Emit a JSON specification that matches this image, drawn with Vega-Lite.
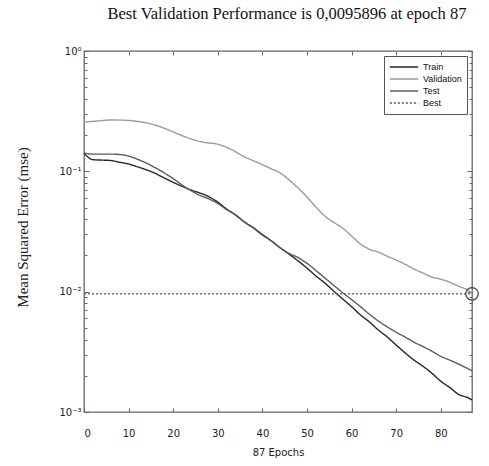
{
  "$schema": "https://vega.github.io/schema/vega-lite/v6.json",
  "width": 388,
  "height": 361,
  "autosize": {"type": "none"},
  "padding": {"left": 84, "top": 51, "right": 17, "bottom": 54},
  "background": "white",
  "title": {
    "text": "Best Validation Performance is 0,0095896 at epoch 87",
    "font": "Liberation Serif",
    "fontSize": 16.5,
    "fontWeight": "normal",
    "color": "#111",
    "anchor": "middle",
    "dx": 9,
    "offset": 11,
    "baseline": "alphabetic"
  },
  "config": {
    "view": {"stroke": "#666", "strokeWidth": 1.3},
    "axis": {
      "domain": false,
      "grid": false,
      "tickColor": "#666",
      "labelFont": "DejaVu Sans",
      "labelFontSize": 10,
      "labelColor": "#222",
      "titleFont": "DejaVu Sans",
      "titleFontWeight": "normal",
      "titleColor": "#222"
    }
  },
  "data": {
    "values": [
      {"series": "Train", "epoch": 0, "mse": 0.142},
      {"series": "Train", "epoch": 1, "mse": 0.130},
      {"series": "Train", "epoch": 2, "mse": 0.125},
      {"series": "Train", "epoch": 4, "mse": 0.124},
      {"series": "Train", "epoch": 6, "mse": 0.123},
      {"series": "Train", "epoch": 8, "mse": 0.119},
      {"series": "Train", "epoch": 10, "mse": 0.115},
      {"series": "Train", "epoch": 12, "mse": 0.109},
      {"series": "Train", "epoch": 14, "mse": 0.103},
      {"series": "Train", "epoch": 16, "mse": 0.096},
      {"series": "Train", "epoch": 18, "mse": 0.088},
      {"series": "Train", "epoch": 20, "mse": 0.081},
      {"series": "Train", "epoch": 22, "mse": 0.075},
      {"series": "Train", "epoch": 24, "mse": 0.070},
      {"series": "Train", "epoch": 26, "mse": 0.066},
      {"series": "Train", "epoch": 28, "mse": 0.0615},
      {"series": "Train", "epoch": 30, "mse": 0.0555},
      {"series": "Train", "epoch": 32, "mse": 0.0486},
      {"series": "Train", "epoch": 34, "mse": 0.0433},
      {"series": "Train", "epoch": 36, "mse": 0.0378},
      {"series": "Train", "epoch": 38, "mse": 0.0338},
      {"series": "Train", "epoch": 40, "mse": 0.0296},
      {"series": "Train", "epoch": 42, "mse": 0.0264},
      {"series": "Train", "epoch": 44, "mse": 0.0231},
      {"series": "Train", "epoch": 46, "mse": 0.0205},
      {"series": "Train", "epoch": 48, "mse": 0.018},
      {"series": "Train", "epoch": 50, "mse": 0.0157},
      {"series": "Train", "epoch": 52, "mse": 0.0135},
      {"series": "Train", "epoch": 54, "mse": 0.0118},
      {"series": "Train", "epoch": 56, "mse": 0.0101},
      {"series": "Train", "epoch": 58, "mse": 0.0087},
      {"series": "Train", "epoch": 60, "mse": 0.0075},
      {"series": "Train", "epoch": 62, "mse": 0.0064},
      {"series": "Train", "epoch": 64, "mse": 0.0056},
      {"series": "Train", "epoch": 66, "mse": 0.0048},
      {"series": "Train", "epoch": 68, "mse": 0.0042},
      {"series": "Train", "epoch": 70, "mse": 0.0036},
      {"series": "Train", "epoch": 72, "mse": 0.0031},
      {"series": "Train", "epoch": 74, "mse": 0.0027},
      {"series": "Train", "epoch": 76, "mse": 0.0024},
      {"series": "Train", "epoch": 78, "mse": 0.0021},
      {"series": "Train", "epoch": 80, "mse": 0.0018},
      {"series": "Train", "epoch": 82, "mse": 0.0016},
      {"series": "Train", "epoch": 84, "mse": 0.0014},
      {"series": "Train", "epoch": 86, "mse": 0.00132},
      {"series": "Train", "epoch": 87, "mse": 0.00126},
      {"series": "Validation", "epoch": 0, "mse": 0.257},
      {"series": "Validation", "epoch": 3, "mse": 0.262},
      {"series": "Validation", "epoch": 6, "mse": 0.267},
      {"series": "Validation", "epoch": 9, "mse": 0.266},
      {"series": "Validation", "epoch": 12, "mse": 0.260},
      {"series": "Validation", "epoch": 15, "mse": 0.248},
      {"series": "Validation", "epoch": 18, "mse": 0.228},
      {"series": "Validation", "epoch": 21, "mse": 0.205},
      {"series": "Validation", "epoch": 24, "mse": 0.186},
      {"series": "Validation", "epoch": 27, "mse": 0.174},
      {"series": "Validation", "epoch": 30, "mse": 0.168},
      {"series": "Validation", "epoch": 33, "mse": 0.152},
      {"series": "Validation", "epoch": 36, "mse": 0.132},
      {"series": "Validation", "epoch": 39, "mse": 0.118},
      {"series": "Validation", "epoch": 42, "mse": 0.105},
      {"series": "Validation", "epoch": 44, "mse": 0.097},
      {"series": "Validation", "epoch": 46, "mse": 0.0847},
      {"series": "Validation", "epoch": 48, "mse": 0.0727},
      {"series": "Validation", "epoch": 50, "mse": 0.0612},
      {"series": "Validation", "epoch": 52, "mse": 0.0505},
      {"series": "Validation", "epoch": 54, "mse": 0.0425},
      {"series": "Validation", "epoch": 56, "mse": 0.0377},
      {"series": "Validation", "epoch": 58, "mse": 0.0337},
      {"series": "Validation", "epoch": 60, "mse": 0.029},
      {"series": "Validation", "epoch": 62, "mse": 0.0249},
      {"series": "Validation", "epoch": 64, "mse": 0.0225},
      {"series": "Validation", "epoch": 66, "mse": 0.0213},
      {"series": "Validation", "epoch": 68, "mse": 0.0197},
      {"series": "Validation", "epoch": 70, "mse": 0.0183},
      {"series": "Validation", "epoch": 72, "mse": 0.0169},
      {"series": "Validation", "epoch": 74, "mse": 0.0154},
      {"series": "Validation", "epoch": 76, "mse": 0.0143},
      {"series": "Validation", "epoch": 78, "mse": 0.0132},
      {"series": "Validation", "epoch": 80, "mse": 0.0127},
      {"series": "Validation", "epoch": 82, "mse": 0.012},
      {"series": "Validation", "epoch": 84, "mse": 0.0111},
      {"series": "Validation", "epoch": 86, "mse": 0.0103},
      {"series": "Validation", "epoch": 87, "mse": 0.0095896},
      {"series": "Test", "epoch": 0, "mse": 0.142},
      {"series": "Test", "epoch": 1, "mse": 0.140},
      {"series": "Test", "epoch": 2, "mse": 0.139},
      {"series": "Test", "epoch": 4, "mse": 0.139},
      {"series": "Test", "epoch": 6, "mse": 0.139},
      {"series": "Test", "epoch": 8, "mse": 0.138},
      {"series": "Test", "epoch": 10, "mse": 0.134},
      {"series": "Test", "epoch": 12, "mse": 0.126},
      {"series": "Test", "epoch": 14, "mse": 0.117},
      {"series": "Test", "epoch": 16, "mse": 0.107},
      {"series": "Test", "epoch": 18, "mse": 0.097},
      {"series": "Test", "epoch": 20, "mse": 0.087},
      {"series": "Test", "epoch": 22, "mse": 0.077},
      {"series": "Test", "epoch": 24, "mse": 0.069},
      {"series": "Test", "epoch": 26, "mse": 0.063},
      {"series": "Test", "epoch": 28, "mse": 0.059},
      {"series": "Test", "epoch": 30, "mse": 0.054},
      {"series": "Test", "epoch": 32, "mse": 0.048},
      {"series": "Test", "epoch": 34, "mse": 0.0435},
      {"series": "Test", "epoch": 36, "mse": 0.038},
      {"series": "Test", "epoch": 38, "mse": 0.034},
      {"series": "Test", "epoch": 40, "mse": 0.030},
      {"series": "Test", "epoch": 42, "mse": 0.0265},
      {"series": "Test", "epoch": 44, "mse": 0.0232},
      {"series": "Test", "epoch": 46, "mse": 0.0208},
      {"series": "Test", "epoch": 48, "mse": 0.0192},
      {"series": "Test", "epoch": 50, "mse": 0.0172},
      {"series": "Test", "epoch": 52, "mse": 0.015},
      {"series": "Test", "epoch": 54, "mse": 0.013},
      {"series": "Test", "epoch": 56, "mse": 0.0113},
      {"series": "Test", "epoch": 58, "mse": 0.0098},
      {"series": "Test", "epoch": 60, "mse": 0.0086},
      {"series": "Test", "epoch": 62, "mse": 0.0075},
      {"series": "Test", "epoch": 64, "mse": 0.0065},
      {"series": "Test", "epoch": 66, "mse": 0.0057},
      {"series": "Test", "epoch": 68, "mse": 0.0051},
      {"series": "Test", "epoch": 70, "mse": 0.0046},
      {"series": "Test", "epoch": 72, "mse": 0.0042},
      {"series": "Test", "epoch": 74, "mse": 0.0038},
      {"series": "Test", "epoch": 76, "mse": 0.0035},
      {"series": "Test", "epoch": 78, "mse": 0.0032},
      {"series": "Test", "epoch": 80, "mse": 0.0029},
      {"series": "Test", "epoch": 82, "mse": 0.0027},
      {"series": "Test", "epoch": 84, "mse": 0.0025},
      {"series": "Test", "epoch": 86, "mse": 0.0023},
      {"series": "Test", "epoch": 87, "mse": 0.0022},
      {"series": "Best", "epoch": 0, "mse": 0.0095896},
      {"series": "Best", "epoch": 87, "mse": 0.0095896}
    ]
  },
  "layer": [
    {
      "mark": {"type": "line", "interpolate": "monotone", "strokeWidth": 1.4},
      "encoding": {
        "x": {
          "field": "epoch",
          "type": "quantitative",
          "scale": {"domain": [0, 87], "nice": false, "zero": false},
          "axis": {
            "orient": "bottom",
            "values": [0, 10, 20, 30, 40, 50, 60, 70, 80],
            "tickSize": -4,
            "labelPadding": 20,
            "title": "87 Epochs",
            "titleFontSize": 10,
            "titlePadding": 9
          }
        },
        "y": {
          "field": "mse",
          "type": "quantitative",
          "scale": {"type": "log", "domain": [0.001, 1], "nice": false},
          "axis": {
            "orient": "left",
            "values": [0.001, 0.002, 0.003, 0.004, 0.005, 0.006, 0.007, 0.008, 0.009, 0.01, 0.02, 0.03, 0.04, 0.05, 0.06, 0.07, 0.08, 0.09, 0.1, 0.2, 0.3, 0.4, 0.5, 0.6, 0.7, 0.8, 0.9, 1],
            "labelExpr": "datum.value == 1 ? '10⁰' : datum.value == 0.1 ? '10⁻¹' : datum.value == 0.01 ? '10⁻²' : datum.value == 0.001 ? '10⁻³' : ''",
            "tickSize": {"condition": {"test": "datum.value == 1 || datum.value == 0.1 || datum.value == 0.01 || datum.value == 0.001", "value": -5}, "value": -3},
            "labelPadding": 8,
            "title": "Mean Squared Error (mse)",
            "titleFont": "Liberation Serif",
            "titleFontSize": 15,
            "titleAngle": -90,
            "titleBaseline": "middle",
            "titleAlign": "center",
            "titleX": -62,
            "titleY": 176
          }
        },
        "color": {
          "field": "series",
          "type": "nominal",
          "scale": {"domain": ["Train", "Validation", "Test", "Best"], "range": ["#262626", "#9b9b9b", "#5c5c5c", "#555555"]},
          "legend": {
            "title": null,
            "orient": "top-right",
            "offset": 5,
            "fillColor": "white",
            "strokeColor": "#555",
            "padding": 5,
            "labelFont": "Liberation Sans",
            "labelFontSize": 9,
            "labelColor": "#111",
            "symbolType": "stroke",
            "symbolSize": 800,
            "symbolStrokeWidth": 1.4,
            "clipHeight": 12,
            "rowPadding": 0
          }
        },
        "strokeDash": {
          "field": "series",
          "type": "nominal",
          "scale": {"domain": ["Train", "Validation", "Test", "Best"], "range": [[1, 0], [1, 0], [1, 0], [2, 2]]},
          "legend": {
            "title": null,
            "orient": "top-right",
            "offset": 5,
            "fillColor": "white",
            "strokeColor": "#555",
            "padding": 5,
            "labelFont": "Liberation Sans",
            "labelFontSize": 9,
            "labelColor": "#111",
            "symbolType": "stroke",
            "symbolSize": 800,
            "symbolStrokeWidth": 1.4,
            "clipHeight": 12,
            "rowPadding": 0
          }
        }
      }
    },
    {
      "transform": [{"filter": "datum.series == 'Validation' && datum.epoch == 87"}],
      "mark": {"type": "point", "filled": false, "size": 160, "stroke": "#444", "strokeWidth": 1.3, "opacity": 1},
      "encoding": {
        "x": {
          "field": "epoch",
          "type": "quantitative",
          "axis": {"orient": "top", "values": [10, 20, 30, 40, 50, 60, 70, 80], "tickSize": -4, "labels": false, "title": null}
        },
        "y": {
          "field": "mse",
          "type": "quantitative",
          "axis": {
            "orient": "right",
            "values": [0.001, 0.002, 0.003, 0.004, 0.005, 0.006, 0.007, 0.008, 0.009, 0.01, 0.02, 0.03, 0.04, 0.05, 0.06, 0.07, 0.08, 0.09, 0.1, 0.2, 0.3, 0.4, 0.5, 0.6, 0.7, 0.8, 0.9, 1],
            "tickSize": {"condition": {"test": "datum.value == 1 || datum.value == 0.1 || datum.value == 0.01 || datum.value == 0.001", "value": -5}, "value": -3},
            "labels": false,
            "title": null
          }
        }
      }
    }
  ],
  "resolve": {"axis": {"x": "independent", "y": "independent"}}
}
